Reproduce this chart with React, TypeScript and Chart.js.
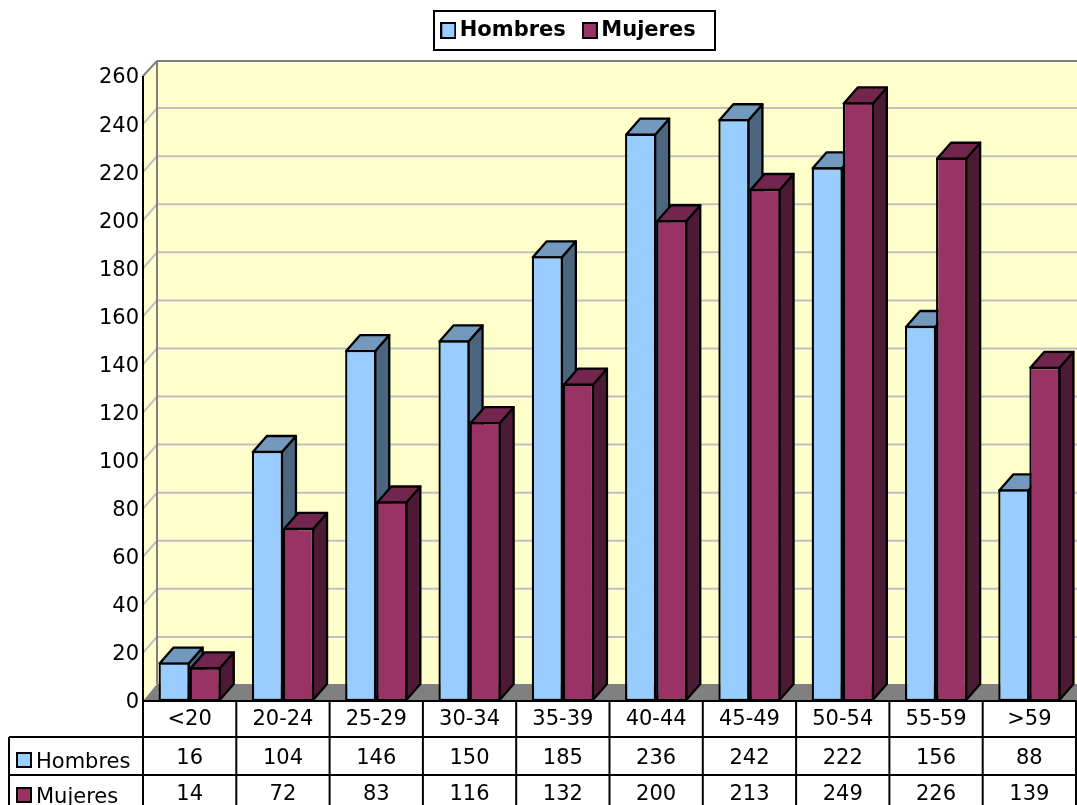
import React, { useEffect, useRef } from "react";
import { Chart, registerables } from "chart.js";

Chart.register(...registerables);

const categories = ["<20", "20-24", "25-29", "30-34", "35-39", "40-44", "45-49", "50-54", "55-59", ">59"];
const hombres = [16, 104, 146, 150, 185, 236, 242, 222, 156, 88];
const mujeres = [14, 72, 83, 116, 132, 200, 213, 249, 226, 139];

const FONT = '"DejaVu Sans", Verdana, sans-serif';
const SERIES_COLORS = ["#99CCFF", "#993366"];
const TOP_COLORS = ["#7399BF", "#73264D"];
const SIDE_COLORS = ["#4D6680", "#4D1A33"];
const BAR_DX = 14;
const BAR_DY = 16;
const WALL_DX = 14;
const WALL_DY = 16;
const WALL_TOP_DY = 15;
const FLOOR_DY = 17;
const EDGE = 2.3;
const ROW_TOPS = [737, 775];
const VALUE_BASELINES = [764, 800];
const LABEL_BASELINES = [768, 803];

function makeSwatch(color: string, w: number, h: number) {
  const c = document.createElement("canvas");
  c.width = w;
  c.height = h;
  const x = c.getContext("2d")!;
  x.fillStyle = "#000";
  x.fillRect(0, 0, w, h);
  x.fillStyle = color;
  x.fillRect(2, 2, w - 4, h - 4);
  return c;
}

function poly(ctx: CanvasRenderingContext2D, pts: number[][], fill: string, stroke?: string, lw = 2) {
  ctx.beginPath();
  pts.forEach((p, i) => (i ? ctx.lineTo(p[0], p[1]) : ctx.moveTo(p[0], p[1])));
  ctx.closePath();
  ctx.fillStyle = fill;
  ctx.fill();
  if (stroke) {
    ctx.strokeStyle = stroke;
    ctx.lineWidth = lw;
    ctx.lineJoin = "round";
    ctx.stroke();
  }
}

function line(ctx: CanvasRenderingContext2D, x1: number, y1: number, x2: number, y2: number, color: string, lw = 2) {
  ctx.beginPath();
  ctx.moveTo(x1, y1);
  ctx.lineTo(x2, y2);
  ctx.strokeStyle = color;
  ctx.lineWidth = lw;
  ctx.stroke();
}

const legendShiftPlugin = {
  id: "legendShift",
  afterLayout(chart: any) {
    const h = chart.legend.bottom - chart.legend.top;
    chart.legend.top = -3;
    chart.legend.bottom = chart.legend.top + h;
  },
};

const wallPlugin = {
  id: "wall",
  beforeDatasetsDraw(chart: any) {
    const { ctx, chartArea: a, scales } = chart;
    const y = scales.y;
    const y0 = y.getPixelForValue(0);
    const yMax = y.getPixelForValue(y.max);
    const right = chart.width + WALL_DX + 4;
    const backLeft = a.left + WALL_DX;
    ctx.save();
    poly(ctx, [[a.left, y0], [backLeft, y0 - FLOOR_DY], [right, y0 - FLOOR_DY], [right, yMax - WALL_TOP_DY], [backLeft, yMax - WALL_TOP_DY], [a.left, yMax]], "#FFFFCC");
    (y.ticks as any[]).forEach((t) => {
      const py = y.getPixelForValue(t.value);
      if (t.value > 0 && t.value < y.max) {
        line(ctx, a.left, py, backLeft, py - WALL_DY, "#C0C0C0");
        line(ctx, backLeft, py - WALL_DY, right, py - WALL_DY, "#C0C0C0");
      }
    });
    poly(ctx, [[a.left, y0], [backLeft, y0 - FLOOR_DY], [right, y0 - FLOOR_DY], [right - WALL_DX, y0]], "#808080");
    line(ctx, backLeft, y0 - FLOOR_DY, backLeft, yMax - WALL_TOP_DY, "#808080");
    line(ctx, a.left, yMax, backLeft, yMax - WALL_TOP_DY, "#808080");
    line(ctx, backLeft, yMax - WALL_TOP_DY, right, yMax - WALL_TOP_DY, "#808080");
    [0, 1].forEach((ds) => {
      chart.getDatasetMeta(ds).data.forEach((el: any) => {
        const l = el.x - el.width / 2 + 1;
        const r = el.x + el.width / 2 - 1;
        const t = el.y + 1;
        const b = el.base - 1;
        poly(ctx, [[r, t], [r + BAR_DX, t - BAR_DY], [r + BAR_DX, b - BAR_DY], [r, b]], SIDE_COLORS[ds], "#000", EDGE);
        poly(ctx, [[l, t], [l + BAR_DX, t - BAR_DY], [r + BAR_DX, t - BAR_DY], [r, t]], TOP_COLORS[ds], "#000", EDGE);
      });
    });
    ctx.restore();
  },
};

const tablePlugin = {
  id: "table",
  afterDraw(chart: any) {
    const { ctx, chartArea: a, scales } = chart;
    const y0 = scales.y.getPixelForValue(0);
    const bottom = chart.height + 2;
    const step = a.width / categories.length;
    ctx.save();
    line(ctx, a.left, scales.y.getPixelForValue(scales.y.max), a.left, y0, "#000");
    line(ctx, a.left - 1, y0, a.right + 1, y0, "#000");
    for (let i = 0; i <= categories.length; i++) {
      const x = a.left + step * i;
      line(ctx, x, y0, x, bottom, "#000");
    }
    ROW_TOPS.forEach((ty) => line(ctx, 9, ty, a.right + 1, ty, "#000"));
    line(ctx, 9, ROW_TOPS[0], 9, bottom, "#000");
    ctx.font = `21px ${FONT}`;
    ctx.fillStyle = "#000";
    ctx.textBaseline = "alphabetic";
    [hombres, mujeres].forEach((vals, r) => {
      ctx.textAlign = "center";
      vals.forEach((v, i) => {
        ctx.fillText(String(v), scales.x.getPixelForValue(i), VALUE_BASELINES[r]);
      });
      ctx.textAlign = "left";
      ctx.fillText(chart.data.datasets[r].label, 36, LABEL_BASELINES[r]);
      const top = LABEL_BASELINES[r] - 16;
      ctx.fillRect(16, top, 16, 16);
      ctx.fillStyle = SERIES_COLORS[r];
      ctx.fillRect(18, top + 2, 12, 12);
      ctx.fillStyle = "#000";
    });
    ctx.strokeStyle = "#000";
    ctx.lineWidth = 2;
    ctx.strokeRect(434, 11, 281, 39);
    ctx.restore();
  },
};

export default function App() {
  const ref = useRef<HTMLCanvasElement>(null);
  useEffect(() => {
    const chart = new Chart(ref.current!, {
      type: "bar",
      data: {
        labels: categories,
        datasets: [
          { label: "Hombres", data: hombres, backgroundColor: SERIES_COLORS[0], borderColor: "#000", borderWidth: EDGE, borderSkipped: false, categoryPercentage: 2 / 3, barPercentage: 1 },
          { label: "Mujeres", data: mujeres, backgroundColor: SERIES_COLORS[1], borderColor: "#000", borderWidth: EDGE, borderSkipped: false, categoryPercentage: 2 / 3, barPercentage: 1 },
        ],
      } as any,
      plugins: [legendShiftPlugin, wallPlugin, tablePlugin],
      options: {
        animation: false,
        responsive: false,
        devicePixelRatio: 1,
        layout: { padding: { left: 67, right: 1, top: 22, bottom: 0 } },
        scales: {
          x: {
            grid: { display: false, drawTicks: false },
            border: { display: false },
            ticks: { color: "#000", font: { family: FONT, size: 21 }, padding: 6, maxRotation: 0, autoSkip: false },
            afterFit: (s: any) => { s.height = 104; },
          },
          y: {
            min: 0,
            max: 260,
            grid: { display: false, drawTicks: false },
            border: { display: false },
            ticks: { color: "#000", font: { family: FONT, size: 21 }, stepSize: 20, padding: 4, labelOffset: 2 },
            afterFit: (s: any) => { s.width = 76; },
          },
        },
        plugins: {
          tooltip: { enabled: false },
          title: { display: false },
          legend: {
            display: true,
            position: "top",
            onClick: () => {},
            labels: {
              color: "#000",
              font: { family: FONT, size: 21, weight: "bold" },
              usePointStyle: true,
              boxWidth: 2,
              padding: 23,
              generateLabels: (c: any) =>
                c.data.datasets.map((d: any, i: number) => ({
                  text: d.label,
                  datasetIndex: i,
                  fontColor: "#000",
                  hidden: false,
                  lineWidth: 0,
                  pointStyle: makeSwatch(SERIES_COLORS[i], 16, 17),
                })),
            },
          },
        },
      } as any,
    });
    return () => chart.destroy();
  }, []);
  return (
    <canvas
      ref={ref}
      width={1077}
      height={805}
      style={{ position: "absolute", left: 0, top: 0, display: "block", width: 1077, height: 805 }}
    />
  );
}
